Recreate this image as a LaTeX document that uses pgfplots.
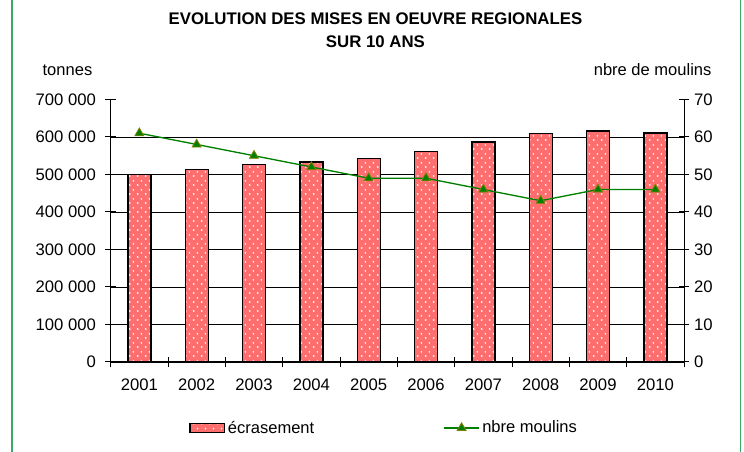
\documentclass[border=0pt]{standalone}
\usepackage{pgfplots}
\pgfplotsset{compat=1.18}
\usepackage{fontspec}
\setmainfont{Liberation Sans}
\usetikzlibrary{patterns}
\definecolor{barred}{RGB}{255,110,110}
\definecolor{linegreen}{RGB}{0,128,0}
\definecolor{markedge}{RGB}{128,128,0}
\definecolor{framegreen}{RGB}{60,170,100}
\pgfdeclarepatternformonly{plusgrid}{\pgfqpoint{0pt}{0pt}}{\pgfqpoint{6pt}{6.4pt}}{\pgfqpoint{6pt}{6.4pt}}{%
  \pgfsetlinewidth{0.5pt}%
  \pgfpathmoveto{\pgfqpoint{0.75pt}{1.6pt}}\pgfpathlineto{\pgfqpoint{2.25pt}{1.6pt}}%
  \pgfpathmoveto{\pgfqpoint{1.5pt}{0.85pt}}\pgfpathlineto{\pgfqpoint{1.5pt}{2.35pt}}%
  \pgfpathmoveto{\pgfqpoint{3.75pt}{4.8pt}}\pgfpathlineto{\pgfqpoint{5.25pt}{4.8pt}}%
  \pgfpathmoveto{\pgfqpoint{4.5pt}{4.05pt}}\pgfpathlineto{\pgfqpoint{4.5pt}{5.55pt}}%
  \pgfusepath{stroke}}
\pgfplotsset{
  barlegend/.style={legend image code/.code={\draw[black, line width=0.9pt, fill=barred, postaction={pattern=plusgrid, pattern color=white}] (0pt,-3.6pt) rectangle (26pt,3.6pt);}},
  linelegend/.style={legend image code/.code={\draw[##1, mark repeat=2, mark phase=2] plot coordinates {(0pt,0pt) (13pt,0pt) (26pt,0pt)};}},
}
\newcommand\ticksize{\fontsize{12.5}{14}\selectfont}
\newcommand\txtsize{\fontsize{12.4}{14.5}\selectfont}
\begin{document}
\begin{tikzpicture}
\useasboundingbox (0,0) rectangle (558pt,339pt);
\draw[framegreen, line width=1pt] (9pt,0) -- (9pt,339pt);
\draw[framegreen, line width=1pt] (555.5pt,0) -- (555.5pt,339pt);
\node[font=\bfseries\fontsize{12.6}{17.25}\selectfont, align=center, inner sep=0pt] at (281.6pt,316.1pt) {EVOLUTION DES MISES EN OEUVRE REGIONALES\\SUR 10 ANS};
\node[font=\txtsize, inner sep=0pt] at (50.6pt,286.5pt) {tonnes};
\node[font=\txtsize, inner sep=0pt, anchor=east] at (533.8pt,286.5pt) {nbre de moulins};
\begin{axis}[
  at={(83pt,67.5pt)}, anchor=south west,
  scale only axis, width=430pt, height=196.9pt,
  xmin=0.5, xmax=10.5, ymin=0, ymax=700000,
  axis x line*=bottom, axis y line*=left,
  axis line style={-, black, line width=0.75pt},
  xtick={0.5,1.5,2.5,3.5,4.5,5.5,6.5,7.5,8.5,9.5,10.5},
  xticklabels={2001,2002,2003,2004,2005,2006,2007,2008,2009,2010,{}},
  xticklabel style={xshift=21.5pt, yshift=-5pt, font=\ticksize},
  ytick={0,100000,200000,300000,400000,500000,600000},
  yticklabels={0,100 000,200 000,300 000,400 000,500 000,600 000},
  extra y ticks={700000}, extra y tick labels={700 000},
  extra y tick style={grid=none},
  yticklabel style={font=\ticksize, xshift=-3.5pt},
  scaled y ticks=false,
  ymajorgrids, grid style={black, line width=0.6pt},
  tick align=center, major tick length=8pt,
  tick style={black, line width=0.75pt},
]
\addplot[ybar, bar width=17.25pt, draw=black, line width=1pt, fill=barred,
  postaction={pattern=plusgrid, pattern color=white}]
  coordinates {(1,500000) (2,513000) (3,527000) (4,533000) (5,543000)
               (6,562000) (7,587000) (8,609000) (9,616000) (10,611000)};
\end{axis}
\begin{axis}[
  at={(83pt,67.5pt)}, anchor=south west,
  scale only axis, width=430pt, height=196.9pt,
  xmin=0.5, xmax=10.5, ymin=0, ymax=70,
  axis x line=none, axis y line*=right,
  axis line style={-, black, line width=0.75pt},
  ytick={0,10,20,30,40,50,60,70},
  yticklabel style={font=\ticksize, /pgf/number format/assume math mode=true},
  tick align=center, major tick length=8pt,
  tick style={black, line width=0.75pt},
  legend columns=2,
  legend style={at={(0.4776,-0.2514)}, anchor=center, draw=none, fill=none,
    font=\txtsize, inner sep=0pt,
    /tikz/every even column/.append style={column sep=95pt},
    nodes={inner sep=2pt}},
]
\addlegendimage{barlegend}
\addlegendentry{écrasement}
\addplot[linegreen, line width=1pt, mark=triangle*, mark size=3.9pt,
  mark options={fill=linegreen, draw=markedge, line width=0.6pt}, linelegend]
  coordinates {(1,61) (2,58) (3,55) (4,52) (5,49) (6,49) (7,46) (8,43) (9,46) (10,46)};
\addlegendentry{nbre moulins}
\end{axis}
\end{tikzpicture}
\end{document}
